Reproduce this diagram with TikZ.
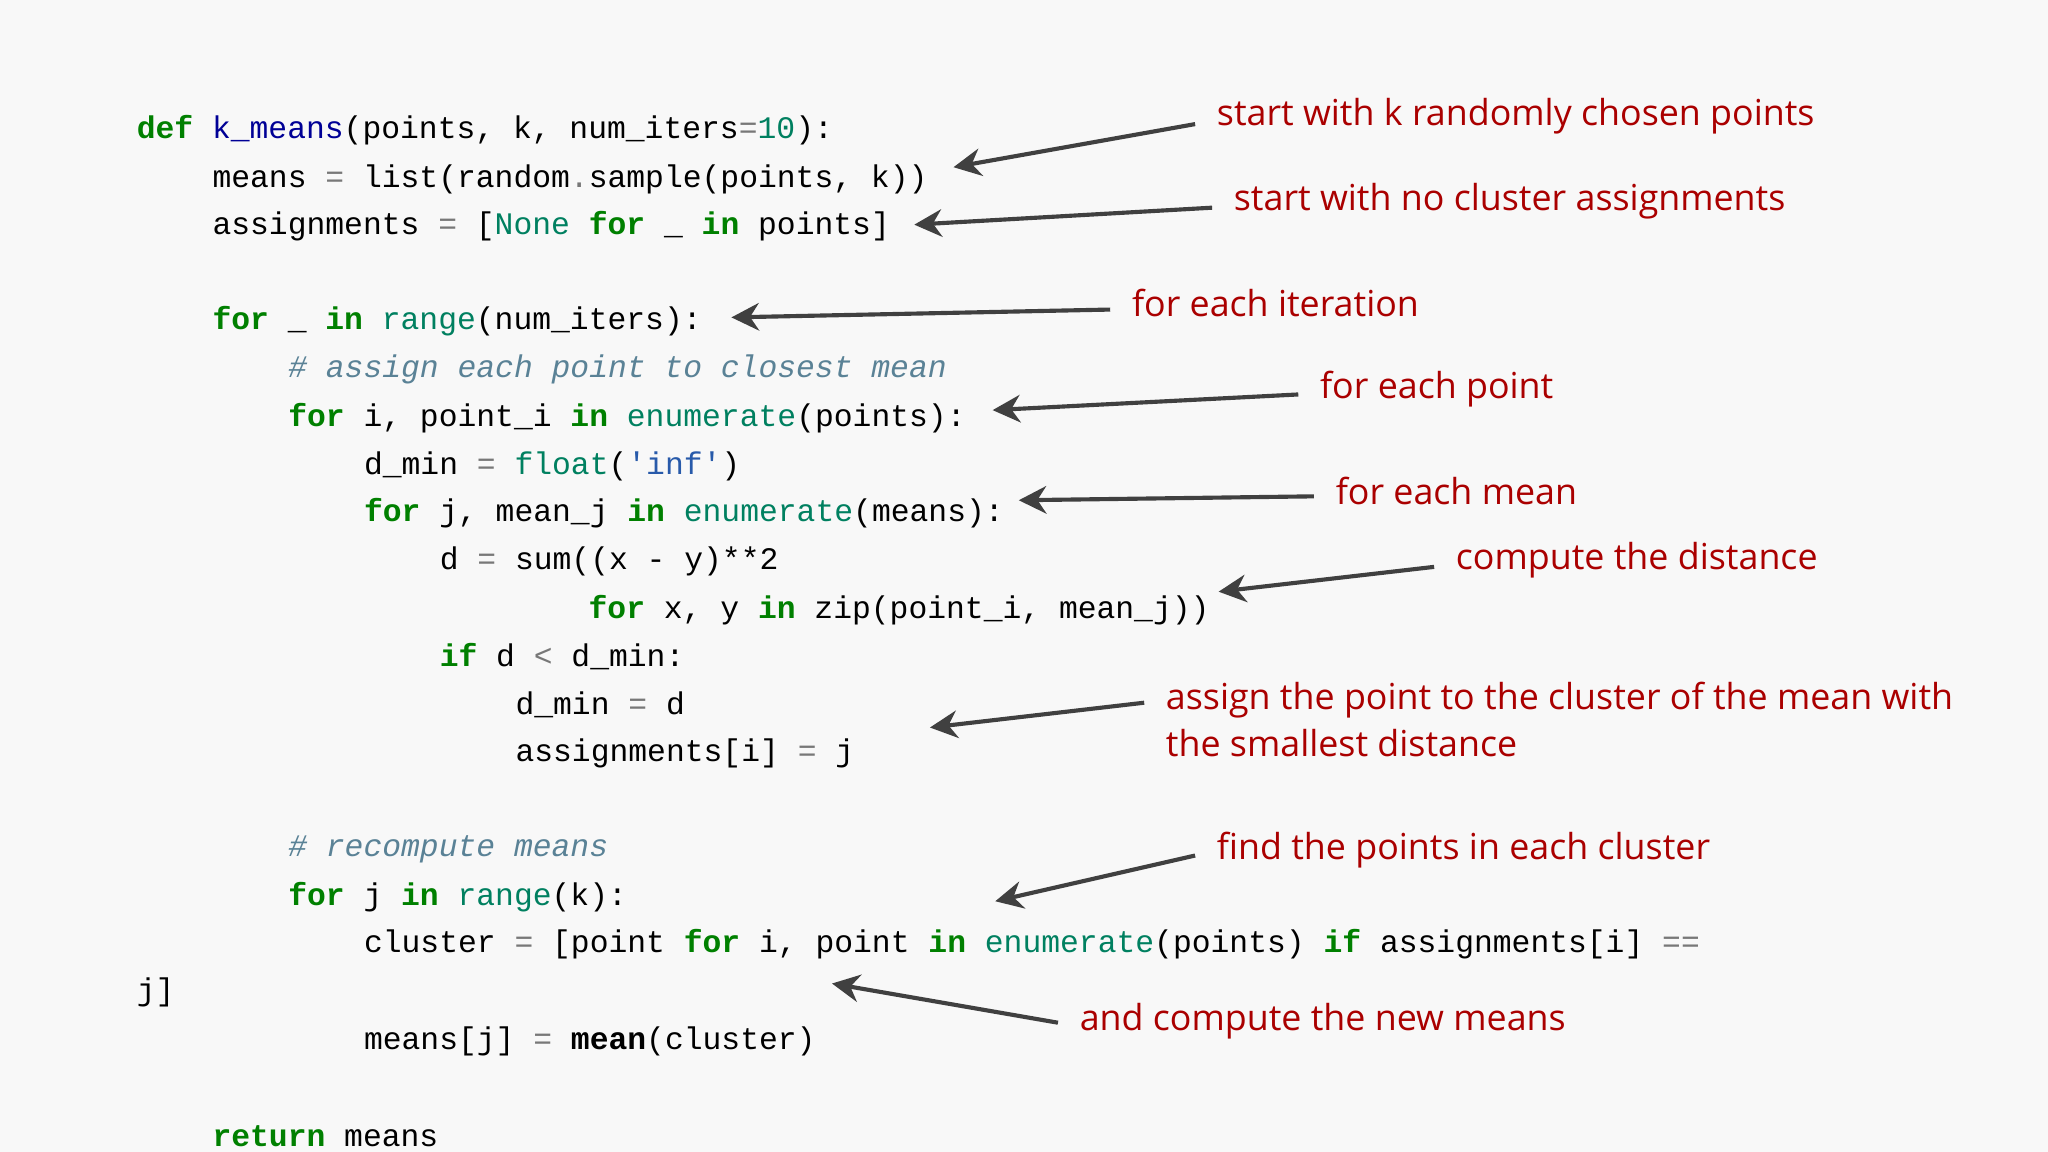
\documentclass[tikz,border=0pt]{standalone}
\usepackage{fontspec}
\setmainfont{Open Sans}
\setmonofont{Liberation Mono}
\usetikzlibrary{arrows.meta}

\definecolor{kwgreen}{RGB}{0,128,0}
\definecolor{bigreen}{RGB}{0,128,96}
\definecolor{fnblue}{RGB}{0,0,150}
\definecolor{strblue}{RGB}{40,90,170}
\definecolor{cmgray}{RGB}{90,130,150}
\definecolor{opgray}{RGB}{120,120,120}
\definecolor{notered}{RGB}{170,0,0}
\definecolor{arrowgray}{RGB}{64,64,64}
\definecolor{bggray}{RGB}{248,248,248}

\newcommand{\kw}[1]{\textcolor{kwgreen}{\textbf{#1}}}
\newcommand{\bi}[1]{\textcolor{bigreen}{#1}}
\newcommand{\fn}[1]{\textcolor{fnblue}{#1}}
\newcommand{\str}[1]{\textcolor{strblue}{#1}}
\newcommand{\cm}[1]{\textcolor{cmgray}{\textit{#1}}}
\newcommand{\op}[1]{\textcolor{opgray}{#1}}

\begin{document}
\begin{tikzpicture}[x=0.1mm, y=-0.1mm,
    code/.style={anchor=west, inner sep=0pt, font=\ttfamily\fontsize{6.83}{8}\selectfont},
    note/.style={anchor=west, inner sep=0pt, align=left, text=notered,
        font=\fontsize{7.8}{10.3}\selectfont},
    pointer/.style={draw=arrowgray, line width=0.9pt, -{Stealth[length=6pt, width=6pt]}}]
  \fill[bggray] (0,0) rectangle (1568,882);
  \useasboundingbox (0,0) rectangle (1568,882);

  % code
  \node[code] (l1)  at (104,100) {\kw{def} \fn{k\_means}(points, k, num\_iters\op{=}\bi{10}):};
  \node[code] (l2)  at (162,137) {means \op{=} list(random\op{.}sample(points, k))};
  \node[code] (l3)  at (162,173) {assignments \op{=} [\bi{None} \kw{for} \_ \kw{in} points]};
  \node[code] (l4)  at (162,246) {\kw{for} \_ \kw{in} \bi{range}(num\_iters):};
  \node[code] (l5)  at (220,283) {\cm{\# assign each point to closest mean}};
  \node[code] (l6)  at (220,320) {\kw{for} i, point\_i \kw{in} \bi{enumerate}(points):};
  \node[code] (l7)  at (278,357) {d\_min \op{=} \bi{float}(\str{'inf'})};
  \node[code] (l8)  at (278,393) {\kw{for} j, mean\_j \kw{in} \bi{enumerate}(means):};
  \node[code] (l9)  at (336,430) {d \op{=} sum((x - y)**2};
  \node[code] (l10) at (450,467) {\kw{for} x, y \kw{in} zip(point\_i, mean\_j))};
  \node[code] (l11) at (336,503) {\kw{if} d \op{<} d\_min:};
  \node[code] (l12) at (394,540) {d\_min \op{=} d};
  \node[code] (l13) at (394,577) {assignments[i] \op{=} j};
  \node[code] (l14) at (220,650) {\cm{\# recompute means}};
  \node[code] (l15) at (220,687) {\kw{for} j \kw{in} \bi{range}(k):};
  \node[code] (l16) at (278,723) {cluster \op{=} [point \kw{for} i, point \kw{in} \bi{enumerate}(points) \kw{if} assignments[i] \op{==}};
  \node[code] (l17) at (104,760) {j]};
  \node[code] (l18) at (278,797) {means[j] \op{=} \textbf{mean}(cluster)};
  \node[code] (l19) at (162,870) {\kw{return} means};

  % notes
  \node[note] (sample)  at (931,89)  {start with k randomly chosen points};
  \node[note] (noassign) at (944,154) {start with no cluster assignments};
  \node[note] (eachiter) at (866,232) {for each iteration};
  \node[note] (eachpt)  at (1010,298) {for each point};
  \node[note] (eachmean) at (1022,376) {for each mean};
  \node[note] (dist)    at (1114,429) {compute the distance};
  \node[note] (assign)  at (892,551)  {assign the point to the cluster of the mean with\\the smallest distance};
  \node[note] (findpts) at (931,651)  {find the points in each cluster};
  \node[note] (newmean) at (826,782)  {and compute the new means};

  \coordinate (t1) at (730,128);
  \coordinate (t2) at (700,172);
  \coordinate (t3) at (560,243);
  \coordinate (t4) at (760,314);
  \coordinate (t5) at (780,383);
  \coordinate (t6) at (933,453);
  \coordinate (t7) at (712,557);
  \coordinate (t8) at (762,690);
  \coordinate (t9) at (637,753);

  \draw[pointer] ([xshift=-1.6mm, yshift=-0.6mm]sample.west)   -- (t1);
  \draw[pointer] ([xshift=-1.6mm, yshift=-0.5mm]noassign.west) -- (t2);
  \draw[pointer] ([xshift=-1.6mm, yshift=-0.5mm]eachiter.west) -- (t3);
  \draw[pointer] ([xshift=-1.6mm, yshift=-0.4mm]eachpt.west)   -- (t4);
  \draw[pointer] ([xshift=-1.6mm, yshift=-0.4mm]eachmean.west) -- (t5);
  \draw[pointer] ([xshift=-1.6mm, yshift=-0.5mm]dist.west)     -- (t6);
  \draw[pointer] ([xshift=-1.6mm, yshift=1.3mm]assign.west) -- (t7);
  \draw[pointer] ([xshift=-1.6mm, yshift=-0.4mm]findpts.west)  -- (t8);
  \draw[pointer] ([xshift=-1.6mm, yshift=-0.1mm]newmean.west)  -- (t9);
\end{tikzpicture}
\end{document}
